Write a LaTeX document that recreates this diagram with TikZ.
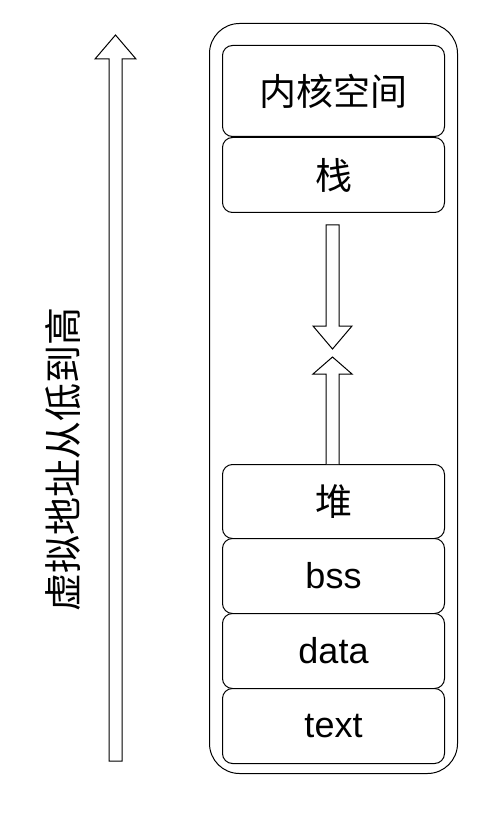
\documentclass[tikz,border=0pt]{standalone}
\usepackage{fontspec}
\setmainfont{Liberation Sans}
\newfontfamily\cjk{Noto Sans CJK SC}
\begin{document}
\begin{tikzpicture}[x=1pt,y=-1pt,
  seg/.style={draw=black,line width=1pt,rounded corners=10pt,minimum width=222pt,inner sep=0pt,anchor=north west,fill=white},
  cjktext/.style={font=\cjk\fontsize{37}{42}\selectfont},
  lattext/.style={font=\fontsize{36}{40}\selectfont},
  blockarrow/.style={draw=black,line width=1pt,fill=white,line join=miter}]
\useasboundingbox (0,0) rectangle (500,818);
% outer container
\node[draw=black,line width=1pt,rounded corners=30pt,minimum width=248pt,minimum height=750pt,inner sep=0pt,anchor=north west] (mem) at (209,23) {};
% segments
\node[seg,minimum height=91pt] (kernel) at (222,45) {};
\node[cjktext] at (kernel.center) {内核空间};
\node[seg,minimum height=75pt] (stack) at (222,137) {};
\node[cjktext] at (stack.center) {栈};
\node[seg,minimum height=74pt] (heap) at (222,464) {};
\node[cjktext] at (heap.center) {堆};
\node[seg,minimum height=75pt] (bss) at (222,538) {};
\node[lattext] at (bss.center) {bss};
\node[seg,minimum height=75pt] (data) at (222,613) {};
\node[lattext] at (data.center) {data};
\node[seg,minimum height=75pt] (text) at (222,688) {};
\node[lattext] at (text.center) {text};
% stack grows down
\draw[blockarrow] (326,225) -- (339,225) -- (339,326) -- (352,326) -- (332.5,349) -- (313,326) -- (326,326) -- cycle;
% heap grows up
\draw[blockarrow] (326,464) -- (326,374) -- (313,374) -- (332.5,357) -- (352,374) -- (339,374) -- (339,464);
% address arrow
\draw[blockarrow] (109,761) -- (109,59) -- (95,59) -- (115.5,35) -- (136,59) -- (122,59) -- (122,761) -- cycle;
\node[rotate=90,font=\cjk\fontsize{38}{42}\selectfont] (addr) at (63,459) {虚拟地址从低到高};
\end{tikzpicture}
\end{document}
